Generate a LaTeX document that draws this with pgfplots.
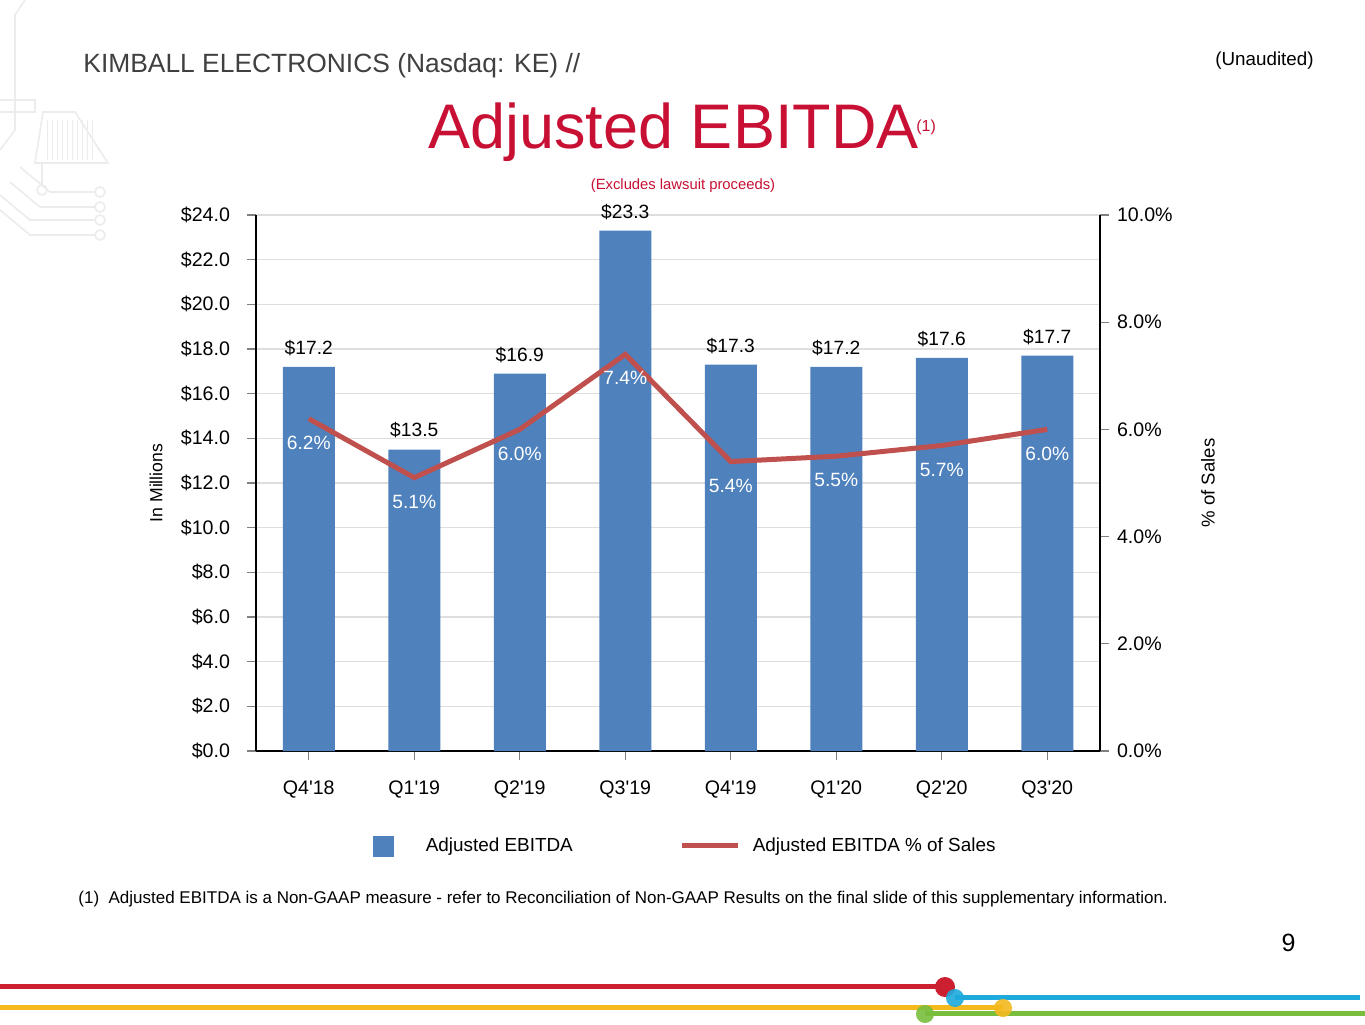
\documentclass[border=0pt]{standalone}
\usepackage{pgfplots}
\pgfplotsset{compat=1.18}
\usepackage{fontspec}
\setmainfont{Liberation Sans}
\definecolor{barblue}{RGB}{79,129,189}
\definecolor{linered}{RGB}{192,80,77}
\definecolor{crimson}{RGB}{200,16,52}
\definecolor{hdrgray}{RGB}{64,64,64}
\definecolor{gridgray}{RGB}{222,222,222}
\definecolor{tickgray}{RGB}{128,128,128}
\definecolor{deco}{RGB}{236,236,236}
\definecolor{bred}{RGB}{204,32,48}
\definecolor{bblue}{RGB}{30,170,220}
\definecolor{byellow}{RGB}{245,185,30}
\definecolor{bgreen}{RGB}{120,190,60}
\pgfplotstableread{
x val
0 17.2
1 13.5
2 16.9
3 23.3
4 17.3
5 17.2
6 17.6
7 17.7
}\ebitda
\pgfplotstableread{
x pct
0 6.2
1 5.1
2 6.0
3 7.4
4 5.4
5 5.5
6 5.7
7 6.0
}\pct
\begin{document}
\begin{tikzpicture}
\path[use as bounding box, fill=white] (0,0) rectangle (682.5pt,-512pt);
\begin{scope}[x=0.5pt,y=-0.5pt]
% faint circuit decoration
\draw[deco, line width=0.8pt] (25,0) -- (15,15) -- (15,130) -- (0,150);
\draw[deco, line width=0.8pt] (0,100) -- (35,100) -- (35,112) -- (0,112);
\draw[deco, line width=0.8pt] (43,112) -- (75,112) -- (108,163) -- (35,163) -- cycle;
\foreach \xx in {47,52,57,62,67,72,77,82,87,92} {\draw[deco, line width=0.5pt] (\xx,120) -- (\xx,160);}
\draw[deco, line width=0.8pt] (42,163) -- (42,185);
\draw[deco, line width=0.8pt] (42,190) circle (5);
\foreach \yy/\xs in {192/20,207/10,220/0,235/0} {\draw[deco, line width=0.8pt] (\xs,\yy-25) -- (\xs+30,\yy) -- (95,\yy); \draw[deco, line width=0.8pt] (100,\yy) circle (5);}
% header texts
\node[anchor=base west, inner sep=0pt, text=hdrgray, font=\fontsize{13.2pt}{15pt}\selectfont] at (83,72) {KIMBALL ELECTRONICS (Nasdaq: KE) //};
\node[anchor=base east, inner sep=0pt, text=black, font=\fontsize{9.4pt}{11pt}\selectfont] at (1314,65) {(Unaudited)};
\node[anchor=base west, inner sep=0pt, text=crimson, font=\fontsize{31.5pt}{36pt}\selectfont] at (428,148) {Adjusted EBITDA};
\node[anchor=base west, inner sep=0pt, text=crimson, font=\fontsize{8pt}{10pt}\selectfont] at (916,131) {(1)};
\node[anchor=base, inner sep=0pt, text=crimson, font=\fontsize{7.4pt}{9pt}\selectfont] at (683,189) {(Excludes lawsuit proceeds)};
% footnote & page number
\node[anchor=base west, inner sep=0pt, text=black, font=\fontsize{8.5pt}{10pt}\selectfont] at (78,903) {(1)\ \ Adjusted EBITDA is a Non-GAAP measure - refer to Reconciliation of Non-GAAP Results on the final slide of this supplementary information.};
\node[anchor=base east, inner sep=0pt, text=black, font=\fontsize{12.5pt}{14pt}\selectfont] at (1296,951) {9};
% bottom colour bars
\draw[bred, line width=2.5pt] (0,986) -- (945,986);
\draw[byellow, line width=2.5pt] (0,1007) -- (1003,1007);
\draw[bblue, line width=2.5pt] (955,997) -- (1360,997);
\draw[bgreen, line width=2.5pt] (925,1013) -- (1365,1013);
\fill[bred] (945,987) circle (10);
\fill[bblue, opacity=0.9] (955,998) circle (9);
\fill[byellow, opacity=0.9] (1003,1008) circle (9);
\fill[bgreen, opacity=0.9] (925,1014) circle (9);
\end{scope}

\begin{axis}[
  at={(128pt,-375.5pt)}, anchor=south west,
  scale only axis, width=422pt, height=268pt,
  xmin=-0.5, xmax=7.5, ymin=0, ymax=24,
  axis x line*=bottom, axis y line*=left,
  axis line style={black, line width=1pt},
  xtick={0,...,7},
  xticklabels={Q4\textquotesingle18,Q1\textquotesingle19,Q2\textquotesingle19,Q3\textquotesingle19,Q4\textquotesingle19,Q1\textquotesingle20,Q2\textquotesingle20,Q3\textquotesingle20},
  ytick={0,2,...,24},
  tick align=outside,
  major tick length=4.5pt,
  tick style={tickgray, line width=0.6pt},
  ymajorgrids, grid style={gridgray, line width=0.6pt},
  /pgf/number format/assume math mode=true,
  yticklabel={\$\pgfmathprintnumber[fixed,fixed zerofill,precision=1]{\tick}},
  yticklabel style={font=\fontsize{9.8pt}{11pt}\selectfont, xshift=-5pt},
  xticklabel style={font=\fontsize{9.8pt}{11pt}\selectfont, yshift=-7pt},
  ylabel={In Millions},
  every axis y label/.style={at={(rel axis cs:0,0.5)}, rotate=90, anchor=center, yshift=50pt, font=\fontsize{8.8pt}{10pt}\selectfont},
  clip=false,
]
\addplot[ybar, bar width=26pt, fill=barblue, draw=none,
  nodes near coords={\$\pgfmathprintnumber[fixed,fixed zerofill,precision=1]{\pgfplotspointmeta}},
  nodes near coords style={anchor=center, yshift=9.5pt, black, font=\fontsize{9.6pt}{11pt}\selectfont, /pgf/number format/assume math mode=true},
] table[x=x, y=val] {\ebitda};
\end{axis}

\begin{axis}[
  at={(128pt,-375.5pt)}, anchor=south west,
  scale only axis, width=422pt, height=268pt,
  xmin=-0.5, xmax=7.5, ymin=0, ymax=10,
  axis x line=none, axis y line*=right,
  axis line style={black, line width=1pt},
  ytick={0,2,...,10},
  tick align=outside,
  major tick length=4.5pt,
  tick style={tickgray, line width=0.6pt},
  /pgf/number format/assume math mode=true,
  yticklabel={\pgfmathprintnumber[fixed,fixed zerofill,precision=1]{\tick}\%},
  yticklabel style={font=\fontsize{9.8pt}{11pt}\selectfont, xshift=0.5pt},
  ylabel={\% of Sales},
  every axis y label/.style={at={(rel axis cs:1,0.5)}, rotate=90, anchor=center, yshift=-54pt, font=\fontsize{9.3pt}{11pt}\selectfont},
  clip=false,
  legend style={at={(rel axis cs:0.1386,-0.1772)}, anchor=west, draw=none, fill=none,
    inner sep=0pt, outer sep=0pt, column sep=0pt,
    nodes={inner sep=0pt, anchor=west, font=\fontsize{9.45pt}{11pt}\selectfont},
    /tikz/every even column/.append style={column sep=53.5pt}},
  legend columns=2,
]
\addlegendimage{legend image code/.code={\fill[barblue] (0pt,-5pt) rectangle (10pt,5pt); \path (26pt,0pt);}}
\addlegendentry{Adjusted EBITDA}
\addplot[color=linered, line width=2.5pt, mark=none,
  legend image code/.code={\draw[linered, line width=2.5pt] (0pt,0pt) -- (28pt,0pt); \path (34pt,0pt);},
  nodes near coords={\pgfmathprintnumber[fixed,fixed zerofill,precision=1]{\pgfplotspointmeta}\%},
  nodes near coords style={anchor=center, yshift=-12pt, white, font=\fontsize{9.6pt}{11pt}\selectfont, /pgf/number format/assume math mode=true},
] table[x=x, y=pct] {\pct};
\addlegendentry{Adjusted EBITDA \% of Sales}
\end{axis}
\end{tikzpicture}
\end{document}
